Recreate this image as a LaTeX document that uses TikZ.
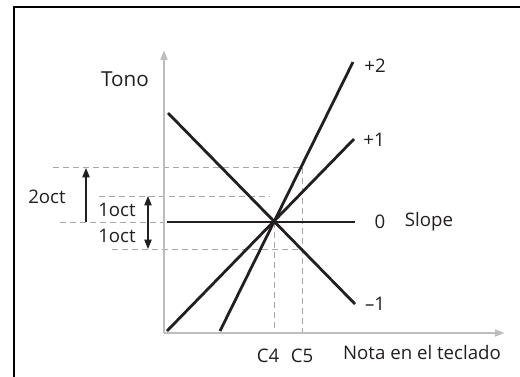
\documentclass[tikz,border=0pt]{standalone}
\usepackage{fontspec}
\setmainfont{Open Sans}
\usetikzlibrary{arrows.meta}
\definecolor{axisgray}{HTML}{BDBDBD}
\definecolor{dashgray}{HTML}{A6A6A6}
\definecolor{ink}{HTML}{231F20}
\tikzset{
  axisline/.style={draw=axisgray, line width=1.8pt, -{Triangle[length=7.5pt,width=5pt]}},
  plotline/.style={draw=ink, line width=2.1pt},
  guide/.style={draw=dashgray, line width=0.75pt, dash pattern=on 4.5pt off 3pt},
  octarrow/.style={draw=ink, line width=0.8pt},
  lbl/.style={font=\fontsize{14pt}{16pt}\selectfont, text=ink, inner sep=0pt},
}
\begin{document}
\begin{tikzpicture}[x=0.75pt,y=-0.75pt]
\useasboundingbox (0,0) rectangle (520,376);
% frame (clipped right and bottom)
\begin{scope}
\clip (0,0) rectangle (520,376);
\draw[line width=1.9pt, black] (14,7) rectangle (540,400);
\end{scope}
% coordinates
\coordinate (O) at (164,333);
\coordinate (ytip) at (164,50);
\coordinate (xtip) at (505,333);
\coordinate (C) at (274,222);
% guides
\draw[guide] (53,167) -- (302,167) -- (302,333);
\draw[guide] (99,196) -- (270,196);
\draw[guide] (60,222) -- (164,222);
\draw[guide] (112,249) -- (300,249);
\draw[guide] (274,222) -- (274,333);
% axes
\draw[axisline] (O) -- (ytip);
\draw[axisline] (O) -- (xtip);
% plot lines
\draw[plotline] (167,222) -- (355,222);
\draw[plotline] (168,113) -- (355,304);
\draw[plotline] (167,331) -- (354,139);
\draw[plotline] (220,331) -- (353,62);
% octave arrows
\coordinate (a2b) at (86,222);
\coordinate (a2t) at (86,168);
\draw[octarrow, -{Triangle[length=7pt,width=5.5pt]}] (a2b) -- (a2t);
\coordinate (a1t) at (148,196);
\coordinate (a1b) at (148,249);
\draw[octarrow, {Triangle[length=7pt,width=5.5pt]}-{Triangle[length=7pt,width=5.5pt]}] (a1b) -- (a1t);
% labels
\node[lbl, font=\fontsize{15.5pt}{18pt}\selectfont] (tono) at (125,79) {Tono};
\node[lbl] (p2) at (375,66) {+2};
\node[lbl] (p1) at (374,140) {+1};
\node[lbl] (z0) at (380,222) {0};
\node[lbl] (slope) at (429,222) {Slope};
\node[lbl] (m1) at (375,304) {–1};
\node[lbl] (oct2) at (47,197) {2oct};
\node[lbl] (oct1a) at (117,210) {1oct};
\node[lbl] (oct1b) at (117,236) {1oct};
\node[lbl, anchor=base] (c4) at (268,362) {C4};
\node[lbl, anchor=base] (c5) at (302,362) {C5};
\node[lbl, anchor=base] (nota) at (422,359) {Nota en el teclado};
\end{tikzpicture}
\end{document}
